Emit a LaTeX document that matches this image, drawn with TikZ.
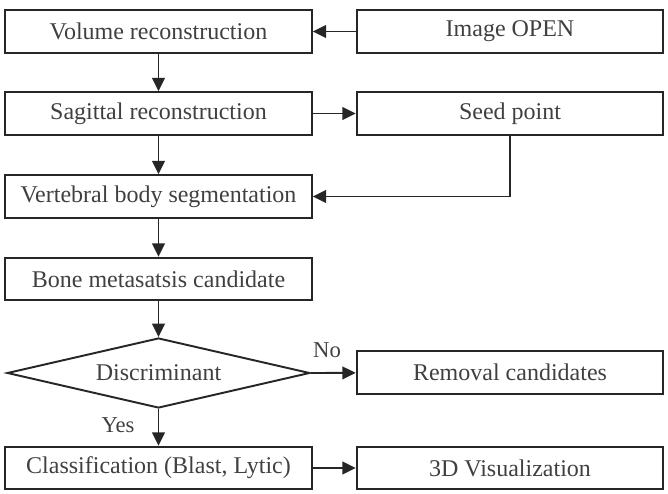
\documentclass[tikz,border=0pt]{standalone}
\usepackage{fontspec}
\setmainfont{Liberation Serif}
\usepackage{tikz}
\usetikzlibrary{arrows.meta}
\usetikzlibrary{shapes.geometric}
\tikzset{basic/.style={draw,text=black!75,font=\fontsize{18}{20}\selectfont,
                       text badly centered,inner sep=0pt}}
\tikzset{process/.style={basic,rectangle,minimum width=230pt,minimum height=32pt}}
\def\leftcol{158.5}
\def\rightcol{510}

\begin{document}
\begin{tikzpicture}[x=0.75pt,y=-0.75pt,->,>={Triangle[length=10pt,width=9.5pt]},draw=black!85,line width=1.45pt]
    \tikzstyle{decision}=[basic,diamond,aspect=4.3,minimum width=227pt,minimum height=52.5pt]
    \tikzstyle{annot}=[text=black!75,font=\fontsize{17}{20}\selectfont]

    \useasboundingbox (0,0) rectangle (668,493);

    % Draw the main column of steps
    \foreach \name / \y / \txt in {vol/31.5/Volume reconstruction,
                                   sag/113.5/Sagittal reconstruction,
                                   seg/196.5/Vertebral body segmentation,
                                   cand/279/Bone metasatsis candidate}
        \node[process] (\name) at (\leftcol,\y) {\txt};
    \node[decision] (disc) at (\leftcol,373) {Discriminant};
    \node[process] (cls) at (\leftcol,468) {Classification (Blast, Lytic)};

    % Draw the side column
    \foreach \name / \y / \txt in {open/31.5/Image OPEN,
                                   seed/113.5/Seed point,
                                   rem/372.5/Removal candidates,
                                   vis/468/3D Visualization}
        \node[process] (\name) at (\rightcol,\y) {\txt};

    % Labels of the decision
    \node[annot] (no) at (327,350) {No};
    \node[annot] (yes) at (118,425) {Yes};

    % Connect the main column top to bottom
    \foreach \source / \dest in {vol/sag,sag/seg,seg/cand,cand/disc,disc/cls}
        \path (\source) edge (\dest);

    % Connect the side boxes
    \path (open) edge (vol);
    \path (sag) edge (seed);
    \draw (seed.south) |- (seg.east);
    \path (disc.east) edge (rem);
    \path (cls) edge (vis);
\end{tikzpicture}
\end{document}
